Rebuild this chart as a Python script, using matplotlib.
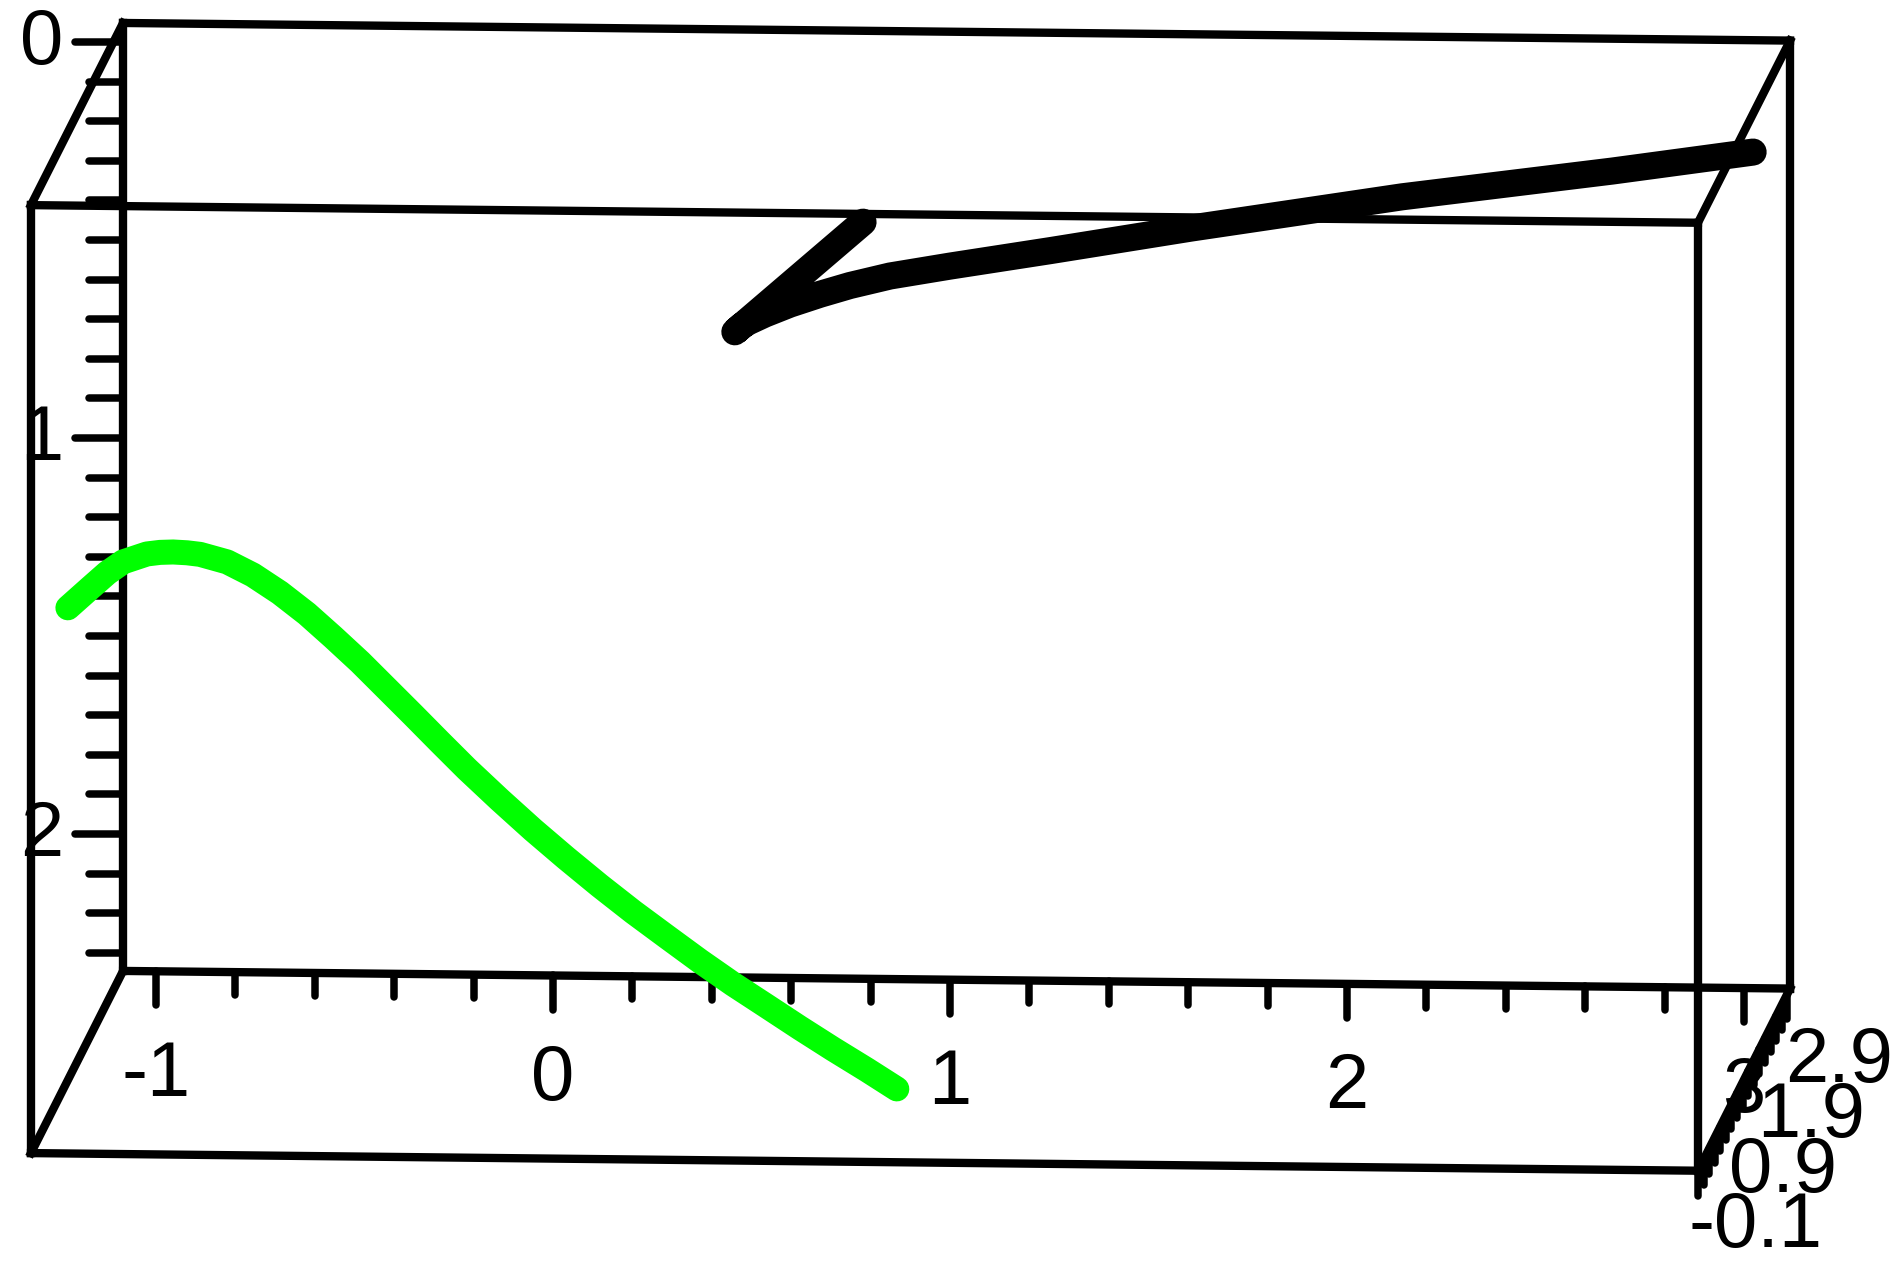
import numpy as np
import matplotlib
matplotlib.use("Agg")
import matplotlib.pyplot as plt

# ── Data (in x / z units of the back plane) ───────────────────────────────────
GREEN_X = [-1.222, -1.166, -1.123, -1.083, -1.023, -0.990, -0.957, -0.922,
           -0.889, -0.821, -0.756, -0.688, -0.620, -0.554, -0.486, -0.418,
           -0.353, -0.285, -0.217, -0.134, -0.050, 0.033, 0.118, 0.202,
           0.287, 0.370, 0.453, 0.537, 0.622, 0.705, 0.791, 0.866]
GREEN_Z = [1.429, 1.379, 1.341, 1.313, 1.293, 1.289, 1.288, 1.290,
           1.294, 1.313, 1.346, 1.391, 1.444, 1.503, 1.566, 1.634,
           1.699, 1.768, 1.836, 1.914, 1.990, 2.061, 2.131, 2.197,
           2.260, 2.321, 2.379, 2.434, 2.490, 2.543, 2.596, 2.644]

BLACK_X = [0.781, 0.458, 0.475, 0.491, 0.534, 0.597, 0.673, 0.748,
           0.849, 1.000, 1.252, 1.607, 2.139, 2.668, 3.023]
BLACK_Z = [0.455, 0.732, 0.717, 0.707, 0.687, 0.662, 0.637, 0.615,
           0.591, 0.566, 0.527, 0.470, 0.391, 0.326, 0.278]

X_LABELS = [-1, 0, 1, 2, 3]
Z_LABELS = [0, 1, 2]
D_LABELS = ["-0.1", "0.9", "1.9", "2.9"]
D_LABEL_POS = [-0.1, 0.9, 1.9, 2.9]

# ── Box / view settings ───────────────────────────────────────────────────────
X_MIN, X_MAX = -1.083, 3.116
Z_MIN, Z_MAX = -0.048, 2.346
D_MIN, D_MAX = -0.1, 3.2

DU = 0.0703     # horizontal shift per unit depth
DV = 0.1394     # vertical shift per unit depth
SHEAR = 0.0106  # slight tilt of the x axis

LW_FRAME = 6.0
LW_TICK = 5.4
LW_BLACK = 19.5
LW_GREEN = 18
FONT = dict(family="Liberation Sans", fontsize=56)


def proj(x, d, z):
    x = np.asarray(x, dtype=float)
    z = np.asarray(z, dtype=float)
    u = x + (d - D_MAX) * DU
    v = z + SHEAR * (x - X_MIN) - (d - D_MAX) * DV
    return u, v


def edge(ax, p0, p1):
    u0, v0 = proj(*p0)
    u1, v1 = proj(*p1)
    ax.plot([u0, u1], [v0, v1], color="black", lw=LW_FRAME,
            solid_capstyle="projecting", zorder=1)


def tick(ax, u, v, du, dv):
    ax.plot([u, u + du], [v, v + dv], color="black", lw=LW_TICK,
            solid_capstyle="round", zorder=1)


fig = plt.figure(figsize=(19.04, 12.79), dpi=100)
ax = fig.add_axes([0, 0, 1, 1])
ax.set_xlim(-1.393, 3.403)
ax.set_ylim(3.124, -0.106)
ax.axis("off")

# box: back face, front face, connecting edges
for d in (D_MAX, D_MIN):
    corners = [(X_MIN, d, Z_MIN), (X_MAX, d, Z_MIN),
               (X_MAX, d, Z_MAX), (X_MIN, d, Z_MAX)]
    for i in range(4):
        edge(ax, corners[i], corners[(i + 1) % 4])
for x in (X_MIN, X_MAX):
    for z in (Z_MIN, Z_MAX):
        edge(ax, (x, D_MIN, z), (x, D_MAX, z))

# z axis ticks on the back-left edge (pointing left)
for k in range(24):
    z = round(k * 0.1, 1)
    length = 0.121 if k % 10 == 0 else 0.086
    u, v = proj(X_MIN, D_MAX, z)
    tick(ax, u, v, -length, 0)
for z in Z_LABELS:
    u, v = proj(X_MIN, D_MAX, z)
    ax.text(u - 0.204, v + 0.005, str(z), ha="center", va="center",
            zorder=3, **FONT)

# x axis ticks on the back-bottom edge (pointing down)
for k in range(21):
    x = round(-1 + k * 0.2, 1)
    length = 0.086 if k % 5 == 0 else 0.058
    u, v = proj(x, D_MAX, Z_MAX)
    tick(ax, u, v, 0, length)
for x in X_LABELS:
    u, v = proj(x, D_MAX, Z_MAX)
    ax.text(u, v + 0.262, str(x), ha="center", va="center", zorder=3, **FONT)

# depth ticks on the right-bottom edge (pointing down)
for k in range(17):
    d = round(-0.1 + k * 0.2, 1)
    u, v = proj(X_MAX, d, Z_MAX)
    tick(ax, u, v, 0, 0.063)
for d, lab in zip(D_LABEL_POS, D_LABELS):
    u, v = proj(X_MAX, d, Z_MAX)
    ax.text(u + 0.144, v + 0.142, lab, ha="center", va="center",
            zorder=3, **FONT)

# curves
ax.plot(GREEN_X, GREEN_Z, color="#00ff00", lw=LW_GREEN,
        solid_capstyle="round", solid_joinstyle="round", zorder=2)
ax.plot(BLACK_X, BLACK_Z, color="black", lw=LW_BLACK,
        solid_capstyle="round", solid_joinstyle="round", zorder=2)

fig.savefig("out.png", dpi=100)
